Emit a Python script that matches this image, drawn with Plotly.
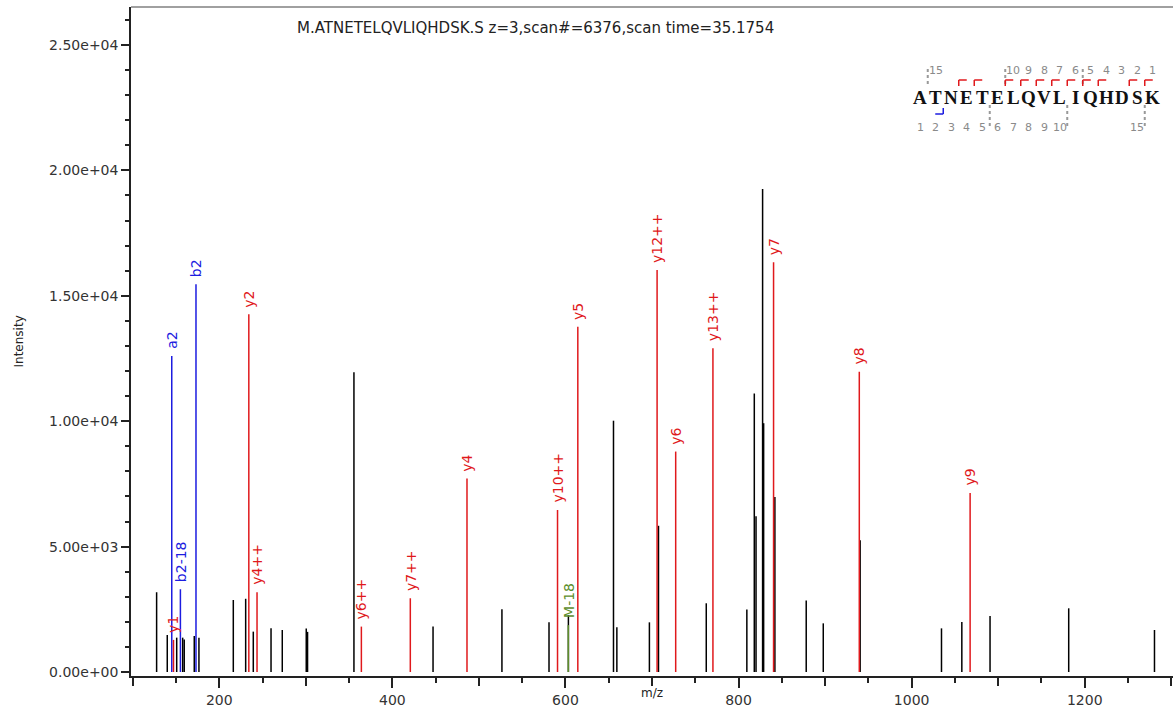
import plotly.graph_objects as go

# ---------------- data ----------------
title_text = "M.ATNETELQVLIQHDSK.S z=3,scan#=6376,scan time=35.1754"

# unassigned peaks (m/z, intensity)
other_mz = [127.6, 139.9, 150.8, 157.7, 159.5, 171.1, 176.5, 216.2, 230.5, 239.3,
            259.8, 272.8, 300.5, 302.0, 355.6, 447.0, 526.6, 581.0, 603.4, 655.5,
            659.4, 697.0, 707.5, 762.7, 809.6, 818.2, 820.2, 827.8, 829.0, 842.0,
            878.2, 897.9, 940.5, 1034.5, 1058.0, 1090.6, 1181.5, 1280.6]
other_int = [3180, 1475, 1370, 1370, 1300, 1435, 1370, 2870, 2920, 1610,
             1740, 1675, 1730, 1600, 11950, 1810, 2500, 1980, 2270, 10020,
             1780, 1980, 5830, 2740, 2490, 11100, 6210, 19260, 9920, 6980,
             2850, 1940, 5250, 1740, 1990, 2230, 2540, 1675]

# assigned fragment ions
ion_labels = ["a2", "y1", "b2-18", "b2", "y2", "y4++", "y6++", "y7++", "y4", "y10++",
              "M-18", "y5", "y12++", "y6", "y13++", "y7", "y8", "y9"]
ion_mz = [145.10, 147.11, 155.08, 173.09, 234.14, 243.62, 364.19, 420.73, 486.23, 590.84,
          603.31, 614.29, 705.88, 727.37, 770.40, 840.46, 939.53, 1067.58]
ion_int = [12600, 1280, 3300, 15460, 14260, 3180, 1810, 2940, 7720, 6460,
           1870, 13770, 16030, 8790, 12910, 16340, 11970, 7140]
ion_type = ["b", "y", "b", "b", "y", "y", "y", "y", "y", "y",
            "M", "y", "y", "y", "y", "y", "y", "y"]

sequence = "ATNETELQVLIQHDSK"
observed_y = [1, 2, 4, 5, 6, 7, 8, 9, 10, 12, 13]
observed_b = [2]
top_numbers = [15, 10, 9, 8, 7, 6, 5, 4, 3, 2, 1]
bottom_numbers = [1, 2, 3, 4, 5, 6, 7, 8, 9, 10, 15]
marker_every = [5, 10, 15]

y_tick_vals = [0, 5000, 10000, 15000, 20000, 25000]
y_tick_text = ["0.00e+00", "5.00e+03", "1.00e+04", "1.50e+04", "2.00e+04", "2.50e+04"]
x_tick_vals = [200, 400, 600, 800, 1000, 1200]
x_tick_text = ["200", "400", "600", "800", "1000", "1200"]

colors = {"b": "#1c1ce0", "y": "#e0191c", "M": "#5e8e2c"}

# ---------------- layout constants ----------------
W, H = 1173, 716
ML, MR, MT, MB = 131, 0, 7, 40
FONT = "DejaVu Sans"


def stems(xs, ys):
    X, Y = [], []
    for x, y in zip(xs, ys):
        X += [x, x, None]
        Y += [0, y, None]
    return X, Y


fig = go.Figure()

X, Y = stems(other_mz, other_int)
fig.add_trace(go.Scatter(x=X, y=Y, mode="lines", line=dict(color="#000000", width=1.5),
                         showlegend=False, hoverinfo="skip"))
for t in ["b", "y", "M"]:
    xs = [m for m, k in zip(ion_mz, ion_type) if k == t]
    ys = [v for v, k in zip(ion_int, ion_type) if k == t]
    X, Y = stems(xs, ys)
    fig.add_trace(go.Scatter(x=X, y=Y, mode="lines", line=dict(color=colors[t], width=1.5),
                             showlegend=False, hoverinfo="skip"))

# helper trace for the overlay axis
fig.add_trace(go.Scatter(x=[None], y=[None], xaxis="x2", showlegend=False, hoverinfo="skip"))

annotations = []
for lab, m, v, t in zip(ion_labels, ion_mz, ion_int, ion_type):
    annotations.append(dict(x=m, y=v, xref="x", yref="y", text=lab, showarrow=False,
                            textangle=-90, xanchor="center", yanchor="bottom", yshift=5,
                            font=dict(family=FONT, size=14, color=colors[t])))

# pixel helpers relative to top-right corner of plot area
RX = W - MR


def ann_px(px, py, text, **kw):
    d = dict(x=1, y=1, xref="paper", yref="paper", xshift=px - RX, yshift=MT - py,
             text=text, showarrow=False, xanchor="center", yanchor="middle")
    d.update(kw)
    return d


def line_px(x0, y0, x1, y1, color, width=1.5, dash="solid"):
    return dict(type="line", xref="paper", yref="paper", xsizemode="pixel", ysizemode="pixel",
                xanchor=1, yanchor=1, x0=x0 - RX, x1=x1 - RX, y0=MT - y0, y1=MT - y1,
                line=dict(color=color, width=width, dash=dash))


# title, axis titles
annotations.append(ann_px(535, 28, title_text, font=dict(family=FONT, size=15, color="#222")))
annotations.append(dict(x=0, y=0.5, xref="paper", yref="paper", xshift=18 - ML, text="Intensity",
                        showarrow=False, textangle=-90, xanchor="center", yanchor="middle",
                        font=dict(family=FONT, size=12, color="#222")))
annotations.append(dict(x=0.5, y=0, xref="paper", yref="paper", yshift=-17, text="m/z",
                        showarrow=False, xanchor="center", yanchor="middle",
                        font=dict(family=FONT, size=12, color="#222")))

# sequence annotation
SX0, STEP = 920, 15.5
for i, ch in enumerate(sequence):
    annotations.append(ann_px(SX0 + i * STEP, 97, "<b>" + ch + "</b>",
                              font=dict(family="Liberation Serif", size=19, color="#111")))
for n in top_numbers:
    annotations.append(ann_px(SX0 + (16 - n) * STEP, 70, str(n),
                              font=dict(family=FONT, size=11, color="#8a8a8a")))
for n in bottom_numbers:
    annotations.append(ann_px(SX0 + (n - 1) * STEP, 127, str(n),
                              font=dict(family=FONT, size=11, color="#8a8a8a")))

shapes = []
# top frame line
shapes.append(dict(type="line", xref="paper", yref="paper", x0=0, x1=1, y0=1, y1=1,
                   line=dict(color="#a0a0a0", width=2)))
# gray dotted markers
for n in marker_every:
    bx = SX0 + (16 - n - 0.5) * STEP
    shapes.append(line_px(bx, 69, bx, 87, "#999999", 2, "dot"))
    bx2 = SX0 + (n - 0.5) * STEP
    shapes.append(line_px(bx2, 105, bx2, 126, "#999999", 2, "dot"))
# y-ion brackets
for n in observed_y:
    bx = SX0 + (16 - n - 0.5) * STEP
    shapes.append(line_px(bx, 80, bx + 8, 80, colors["y"], 1.5))
    shapes.append(line_px(bx, 80, bx, 86, colors["y"], 1.5))
# b-ion brackets
for n in observed_b:
    bx = SX0 + (n - 0.5) * STEP
    shapes.append(line_px(bx - 8, 114, bx, 114, colors["b"], 1.5))
    shapes.append(line_px(bx, 108, bx, 114, colors["b"], 1.5))

axis_col = "#222222"
fig.update_layout(
    width=W, height=H,
    margin=dict(l=ML, r=MR, t=MT, b=MB, pad=0),
    paper_bgcolor="white", plot_bgcolor="white",
    showlegend=False,
    annotations=annotations,
    shapes=shapes,
    xaxis=dict(range=[98, 1302], tickmode="linear", tick0=0, dtick=100,
               ticks="outside", ticklen=8, tickwidth=1.5, tickcolor=axis_col,
               showticklabels=False,
               minor=dict(tickmode="linear", tick0=0, dtick=50, ticks="outside", ticklen=5,
                          tickwidth=1.5, tickcolor=axis_col),
               showline=True, linecolor=axis_col, linewidth=1.5,
               showgrid=False, zeroline=False, fixedrange=True),
    xaxis2=dict(overlaying="x", anchor="y", side="bottom", range=[98, 1302],
                tickmode="array", tickvals=x_tick_vals, ticktext=x_tick_text,
                ticks="outside", ticklen=11, tickwidth=1.5, tickcolor=axis_col,
                tickfont=dict(family=FONT, size=14, color="#333"),
                showline=False, showgrid=False, zeroline=False),
    yaxis=dict(range=[-159.5, 26515], tickmode="array", tickvals=y_tick_vals,
               ticktext=y_tick_text, ticks="outside", ticklen=8, tickwidth=1.5,
               tickcolor=axis_col, tickfont=dict(family=FONT, size=14, color="#333"),
               minor=dict(tickmode="linear", tick0=0, dtick=1000, ticks="outside",
                          ticklen=4, tickwidth=1.5, tickcolor=axis_col),
               showline=True, linecolor=axis_col, linewidth=1.5,
               showgrid=False, zeroline=False),
)

fig.write_html("out.html", config={"displayModeBar": False},
               post_script="document.body.style.margin='0';document.body.style.overflow='hidden';")
